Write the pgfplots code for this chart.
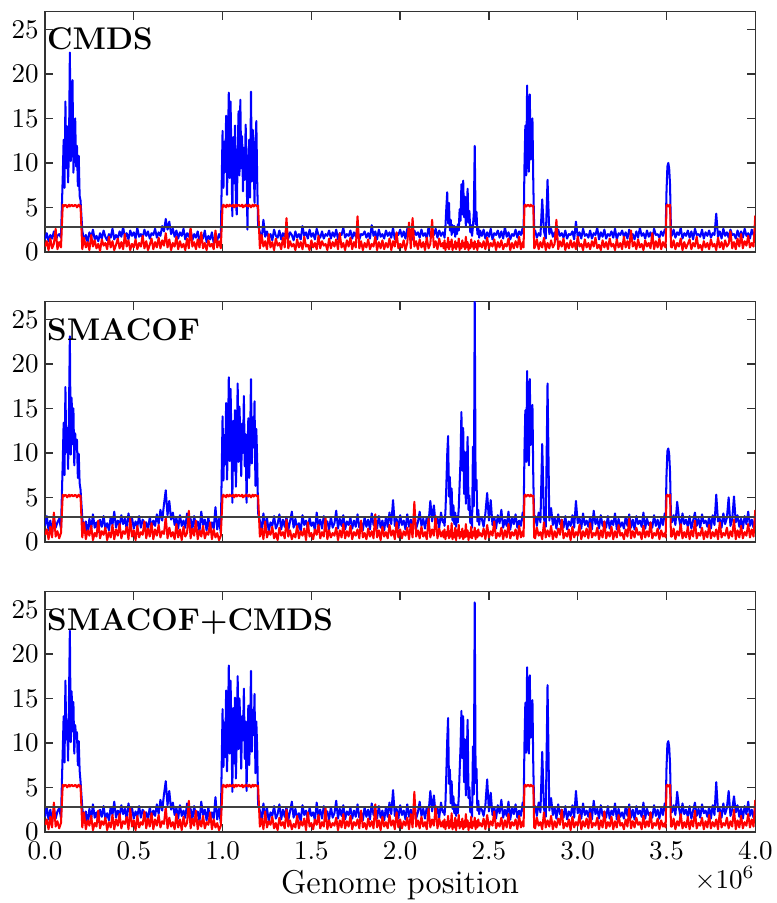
\documentclass[border=0pt]{standalone}
\usepackage{pgfplots}
\usepackage{pgfplotstable}
\pgfplotsset{compat=1.18}
\pgfplotstableread{
x b1 r1 b2 r2 b3
0.00 1.4 0.6 1.8 0.8 1.7
0.01 2.1 1.2 2.9 1.4 2.8
0.02 1.2 0.2 1.3 0.3 1.4
0.03 1.9 1.5 2.4 1.7 2.5
0.04 1.5 0.4 1.1 0.5 1.2
0.05 2.3 0.9 2.7 3.3 2.6
0.06 1.3 2.6 1.6 0.6 1.5
0.07 1.8 0.3 2.2 1.2 2.3
0.08 2.0 1.1 2.6 0.4 2.7
0.09 1.6 0.5 1.5 1.0 1.6
0.100 8.5 5.3 9.0 5.3 9.2
0.105 12.6 5.1 13.4 5.1 13.0
0.110 7.2 5.2 7.5 5.2 7.8
0.115 16.9 5.3 17.4 5.3 17.0
0.120 9.4 5.2 10.1 5.2 10.4
0.125 14.1 5.0 12.8 5.0 12.5
0.130 7.8 5.2 8.2 5.2 8.0
0.135 11.5 5.3 14.6 5.3 14.9
0.140 22.4 5.1 23.1 5.1 22.6
0.145 10.2 5.2 9.8 5.2 10.1
0.150 13.0 5.3 16.2 5.3 15.8
0.155 19.3 5.2 11.0 5.2 11.3
0.160 8.9 5.1 15.0 5.1 14.6
0.165 12.1 5.2 8.6 5.2 8.8
0.170 15.0 5.3 12.2 5.3 12.0
0.175 9.6 5.2 10.4 5.2 10.7
0.180 11.9 5.0 11.5 5.0 11.2
0.185 7.4 5.2 7.2 5.2 7.5
0.190 10.8 5.3 9.9 5.3 10.2
0.195 6.3 5.1 6.6 5.1 6.9
0.200 5.8 5.2 5.9 5.2 5.7
0.21 2.4 0.3 2.7 0.5 2.7
0.22 1.3 1.6 1.2 2.2 1.2
0.23 1.9 0.5 2.3 0.3 2.3
0.24 1.1 1.1 0.9 1.3 0.9
0.25 2.2 0.2 2.6 0.7 2.6
0.26 1.6 1.9 1.4 1.8 1.4
0.27 2.5 0.6 3.1 0.2 3.1
0.28 1.4 1.3 1.6 1.0 1.6
0.29 1.8 0.4 2.2 0.6 2.2
0.30 1.2 0.9 1.1 2.4 1.1
0.31 2.1 0.1 2.5 0.4 2.5
0.32 1.5 1.4 1.7 1.2 1.7
0.33 2.4 0.7 2.9 0.8 2.9
0.34 1.7 1.0 1.5 1.6 1.5
0.35 1.3 0.3 2.1 0.2 2.1
0.36 2.0 1.7 1.3 1.1 1.3
0.37 1.6 0.5 2.8 0.5 2.8
0.38 2.6 1.2 1.9 1.9 1.9
0.39 1.4 0.2 3.4 0.3 3.4
0.40 1.9 0.8 1.6 1.4 1.6
0.41 1.5 1.5 2.4 0.7 2.4
0.42 2.3 0.4 1.8 2.0 1.8
0.43 1.7 1.1 3.0 0.4 3.0
0.44 2.8 0.3 2.0 1.2 2.0
0.45 1.6 2.0 2.6 0.9 2.6
0.46 2.1 0.6 1.4 1.7 1.4
0.47 1.4 1.3 3.2 0.3 3.2
0.48 2.4 0.2 2.1 2.6 2.1
0.49 1.8 0.9 2.7 0.6 2.7
0.50 2.2 0.5 1.5 1.3 1.5
0.51 1.5 1.4 2.3 0.2 2.3
0.52 2.7 0.3 1.7 1.8 1.7
0.53 1.7 1.0 2.9 0.5 2.9
0.54 2.0 0.6 1.6 1.1 1.6
0.55 1.6 1.8 2.5 0.8 2.5
0.56 2.5 0.4 1.9 2.3 1.9
0.57 1.8 1.2 2.2 0.4 2.2
0.58 2.3 0.2 1.3 1.5 1.3
0.59 1.5 0.8 2.8 0.6 2.8
0.60 2.1 1.5 1.6 2.1 1.6
0.61 1.9 0.3 2.4 0.3 2.4
0.62 2.6 1.1 1.8 1.4 1.8
0.63 1.6 0.5 3.1 0.7 3.1
0.64 2.2 1.6 2.0 1.9 2.0
0.65 1.8 0.4 3.6 0.5 3.6
0.66 2.9 1.3 2.4 1.2 2.4
0.67 2.3 0.7 4.2 0.9 4.2
0.68 3.7 2.1 5.8 2.8 5.7
0.69 2.5 0.5 3.0 0.4 3.0
0.70 3.4 1.4 4.6 1.6 4.6
0.71 2.0 0.2 2.5 0.6 2.5
0.72 2.6 1.0 3.3 1.1 3.3
0.73 1.7 0.6 1.9 0.3 1.9
0.74 2.4 1.7 2.7 2.0 2.7
0.75 1.5 0.3 1.5 0.5 1.5
0.76 2.2 1.2 3.0 1.4 3.0
0.77 1.8 0.5 1.8 0.2 1.8
0.78 2.6 0.9 2.4 1.7 2.4
0.79 1.4 0.2 1.6 0.6 1.6
0.80 2.1 1.5 3.2 1.0 3.2
0.81 1.7 0.4 2.0 3.5 2.0
0.82 2.5 2.7 2.6 0.4 2.6
0.83 1.3 0.6 1.4 1.5 1.4
0.84 2.0 1.1 2.9 0.7 2.9
0.85 1.6 0.3 1.7 2.4 1.7
0.86 2.3 1.4 2.3 0.3 2.3
0.87 1.2 0.5 1.2 1.3 1.2
0.88 1.9 2.2 3.4 0.6 3.4
0.89 1.5 0.4 1.9 1.8 1.9
0.90 2.4 1.0 2.5 0.4 2.5
0.91 1.1 0.2 1.3 1.1 1.3
0.92 1.8 1.3 2.8 0.8 2.8
0.93 1.4 0.6 1.1 2.2 1.1
0.94 2.2 0.9 2.2 0.3 2.2
0.95 1.0 0.3 1.5 1.4 1.5
0.96 1.7 2.4 3.9 0.5 3.9
0.97 1.3 0.5 1.4 1.0 1.4
0.98 2.0 1.2 2.6 0.2 2.6
0.99 1.5 0.4 1.0 0.7 1.0
1.000 13.6 5.2 14.1 5.2 13.8
1.005 7.2 5.3 6.9 5.3 7.3
1.010 12.4 5.1 12.0 5.1 12.3
1.015 9.0 5.2 8.7 5.2 8.4
1.020 15.3 5.0 15.6 5.0 15.9
1.025 6.4 5.3 7.0 5.3 6.8
1.030 11.8 5.2 10.9 5.2 11.2
1.035 17.9 5.1 18.5 5.1 18.7
1.040 8.3 5.3 9.1 5.3 8.8
1.045 16.9 5.2 17.2 5.2 17.0
1.050 10.5 5.1 11.4 5.1 11.1
1.055 4.0 5.2 4.4 5.2 4.5
1.060 12.9 5.3 13.6 5.3 13.9
1.065 7.7 5.0 8.0 5.0 7.7
1.070 14.2 5.2 14.8 5.2 15.1
1.075 5.6 5.3 6.2 5.3 6.0
1.080 4.2 5.1 10.3 5.1 10.6
1.085 11.1 5.2 17.8 5.2 17.5
1.090 15.8 5.3 9.0 5.3 9.3
1.095 8.6 5.2 15.2 5.2 15.0
1.100 17.1 5.1 11.9 5.1 12.2
1.105 9.4 5.2 7.4 5.2 7.1
1.110 13.0 5.3 13.3 5.3 13.0
1.115 6.8 5.0 10.0 5.0 10.3
1.120 11.7 5.2 16.4 5.2 16.1
1.125 8.1 5.1 8.5 5.1 8.2
1.130 14.3 5.3 12.1 5.3 12.4
1.135 10.2 5.2 4.4 5.2 4.6
1.140 2.5 5.2 9.7 5.2 9.4
1.145 9.3 5.1 13.9 5.1 14.2
1.150 12.6 5.3 7.2 5.3 7.5
1.155 6.1 5.2 11.5 5.2 11.2
1.160 18.0 5.0 18.3 5.0 18.1
1.165 7.9 5.2 8.8 5.2 9.0
1.170 13.7 5.3 14.0 5.3 13.7
1.175 10.4 5.1 10.6 5.1 10.9
1.180 5.5 5.2 15.8 5.2 15.5
1.185 12.2 5.3 6.3 5.3 6.6
1.190 14.7 5.2 12.7 5.2 12.4
1.195 8.0 5.1 9.1 5.1 9.4
1.200 3.0 5.2 3.2 5.2 3.1
1.21 2.2 0.4 2.4 0.6 2.4
1.22 1.4 1.9 1.3 1.5 1.3
1.23 3.6 0.6 3.2 0.3 3.2
1.24 1.7 1.2 1.6 2.3 1.6
1.25 2.3 0.3 2.7 0.5 2.7
1.26 1.5 2.0 1.2 1.2 1.2
1.27 2.0 0.5 2.2 0.8 2.2
1.28 1.3 1.1 1.8 1.7 1.8
1.29 2.5 0.2 2.9 0.4 2.9
1.30 1.8 1.5 1.5 1.0 1.5
1.31 1.6 0.7 2.0 0.2 2.0
1.32 2.4 1.0 3.1 1.6 3.1
1.33 1.4 0.3 1.4 0.7 1.4
1.34 2.1 1.6 2.5 1.1 2.5
1.35 1.7 0.5 1.7 0.4 1.7
1.36 2.6 3.8 2.8 2.5 2.8
1.37 1.5 0.4 1.3 0.6 1.3
1.38 2.2 1.2 2.3 1.3 2.3
1.39 1.9 0.6 3.4 0.3 3.4
1.40 1.3 0.9 1.6 0.9 1.6
1.41 2.3 0.2 2.6 0.5 2.6
1.42 1.6 1.4 1.5 1.8 1.5
1.43 2.0 0.5 2.1 0.4 2.1
1.44 1.4 1.1 1.2 1.2 1.2
1.45 2.9 0.3 3.0 0.7 3.0
1.46 1.8 1.7 1.9 1.5 1.9
1.47 2.2 0.6 2.4 0.2 2.4
1.48 1.5 0.8 1.4 2.2 1.4
1.49 2.5 0.2 2.7 0.6 2.7
1.50 1.7 1.3 1.8 1.0 1.8
1.51 2.1 0.5 2.2 0.3 2.2
1.52 1.4 1.0 1.3 1.4 1.3
1.53 2.6 0.3 3.3 0.8 3.3
1.54 1.9 1.8 1.7 1.9 1.7
1.55 1.6 0.4 2.5 0.4 2.5
1.56 2.3 1.2 1.5 1.1 1.5
1.57 1.5 0.7 2.9 0.6 2.9
1.58 2.0 0.9 1.9 2.7 1.9
1.59 1.8 0.2 2.3 0.3 2.3
1.60 2.4 1.5 1.4 1.3 1.4
1.61 1.5 0.4 2.8 0.5 2.8
1.62 2.2 1.1 1.6 1.0 1.6
1.63 1.7 0.6 2.1 0.7 2.1
1.64 2.5 1.4 3.5 1.6 3.5
1.65 1.4 0.3 1.5 0.2 1.5
1.66 2.1 2.1 2.6 1.3 2.6
1.67 1.9 0.5 1.8 0.5 1.8
1.68 2.7 1.0 3.0 2.0 3.0
1.69 1.6 0.2 1.4 0.4 1.4
1.70 2.0 1.3 2.3 1.2 2.3
1.71 1.8 0.6 1.9 0.6 1.9
1.72 2.4 1.6 2.7 1.8 2.7
1.73 1.5 0.3 1.5 0.3 1.5
1.74 2.2 1.1 2.4 1.1 2.4
1.75 1.7 0.5 1.7 0.7 1.7
1.76 2.6 4.0 3.1 1.4 3.1
1.77 1.4 0.4 1.6 0.4 1.6
1.78 2.0 1.2 2.2 2.4 2.2
1.79 1.9 0.2 1.3 0.5 1.3
1.80 2.3 1.0 2.8 1.0 2.8
1.81 1.6 0.5 1.7 0.3 1.7
1.82 2.1 1.4 2.5 1.5 2.5
1.83 1.5 0.3 1.4 0.6 1.4
1.84 3.0 0.9 3.2 1.2 3.2
1.85 1.8 0.6 1.9 0.4 1.9
1.86 2.3 1.7 2.3 3.1 2.3
1.87 1.4 0.2 1.5 0.5 1.5
1.88 2.5 1.1 2.9 1.3 2.9
1.89 1.7 0.4 1.6 0.2 1.6
1.90 2.0 1.3 2.4 1.7 2.4
1.91 1.5 0.3 1.3 0.6 1.3
1.92 2.4 1.0 2.8 1.1 2.8
1.93 1.8 0.5 1.7 0.4 1.7
1.94 2.2 1.5 3.3 1.9 3.3
1.95 1.6 0.2 2.0 0.7 2.0
1.96 2.7 1.2 4.7 1.3 4.7
1.97 1.4 0.6 1.8 0.3 1.8
1.98 2.1 2.2 2.6 2.2 2.6
1.99 1.9 0.4 1.5 0.5 1.5
2.00 2.5 0.9 3.0 1.4 3.0
2.01 1.7 0.5 1.9 0.4 1.9
2.02 2.3 1.3 2.4 1.2 2.4
2.03 1.5 0.2 1.4 0.7 1.4
2.04 2.6 1.0 3.1 1.6 3.1
2.05 1.8 3.3 1.7 0.3 1.7
2.06 2.0 0.4 2.5 2.0 2.5
2.07 1.4 3.8 1.6 0.5 1.6
2.08 2.4 0.6 2.9 4.5 2.9
2.09 1.9 1.2 1.5 0.6 1.5
2.10 2.2 0.3 2.2 1.3 2.2
2.11 1.6 1.4 3.4 0.4 3.4
2.12 2.5 0.5 1.8 1.7 1.8
2.13 1.8 1.1 2.6 0.6 2.6
2.14 2.1 0.2 1.5 1.1 1.5
2.15 1.5 1.6 2.8 0.3 2.8
2.16 2.8 0.4 2.1 2.6 2.1
2.17 1.7 0.9 4.6 0.5 4.6
2.18 2.3 3.6 2.3 1.4 2.3
2.19 1.9 0.5 4.1 0.7 4.1
2.20 2.6 1.2 1.9 2.9 1.9
2.21 1.6 0.3 2.7 0.4 2.7
2.22 2.4 1.5 1.6 1.5 1.6
2.23 1.8 0.6 3.3 0.6 3.3
2.24 2.2 1.0 2.2 1.2 2.2
2.245 2.1 0.4 2.5 0.5 2.4
2.250 1.6 1.3 1.8 1.4 1.9
2.255 2.8 0.2 3.4 0.3 3.2
2.260 4.9 0.9 6.2 1.1 6.5
2.265 6.7 0.5 9.8 0.7 10.2
2.270 3.2 1.6 11.9 1.8 12.8
2.275 5.5 0.3 5.1 0.4 5.4
2.280 2.4 1.1 7.3 1.2 7.0
2.285 3.6 0.6 3.0 0.6 3.2
2.290 1.9 1.4 6.0 2.1 5.7
2.295 3.0 0.2 2.4 0.3 2.6
2.300 2.2 0.8 4.1 1.0 4.0
2.305 2.9 0.5 2.0 0.5 2.1
2.310 1.7 1.2 3.3 1.6 3.1
2.315 2.6 0.3 1.7 0.2 1.8
2.320 2.0 1.0 2.9 1.3 3.0
2.325 3.1 0.6 2.2 0.7 2.1
2.330 2.4 1.5 3.8 1.9 3.9
2.335 4.8 0.2 6.5 0.4 6.8
2.340 3.5 0.9 9.2 1.1 9.5
2.345 7.6 0.4 14.6 0.6 13.6
2.350 4.2 1.3 8.0 1.5 8.3
2.355 8.0 0.6 12.8 0.3 13.0
2.360 3.9 1.0 5.4 1.2 5.6
2.365 6.2 0.3 10.1 0.5 10.4
2.370 2.8 1.7 4.3 2.0 4.1
2.375 5.0 0.5 7.9 0.6 8.2
2.380 7.1 1.1 11.8 1.3 12.6
2.385 3.3 0.2 3.6 0.2 3.8
2.390 4.6 0.8 5.2 1.0 5.0
2.395 2.2 0.4 2.1 0.5 2.2
2.400 3.0 1.4 3.4 1.7 3.3
2.405 1.8 0.6 1.6 0.4 1.7
2.410 2.9 1.0 10.7 1.1 9.6
2.415 4.4 0.3 4.0 0.7 4.2
2.420 11.9 1.2 27.0 1.6 25.8
2.425 3.1 0.5 5.8 0.3 5.5
2.430 4.5 0.9 7.0 1.2 7.1
2.435 2.0 0.2 2.3 0.5 2.4
2.440 2.7 1.3 3.6 1.4 3.5
2.445 1.6 0.6 1.9 0.7 2.0
2.450 2.4 1.0 2.8 1.0 2.7
2.46 1.8 0.5 2.6 0.6 2.5
2.47 2.5 1.2 1.7 1.5 1.8
2.48 1.5 0.3 3.2 0.3 3.0
2.49 2.2 1.6 5.5 1.9 5.9
2.50 1.7 0.4 2.4 0.5 2.3
2.51 2.6 1.0 4.7 1.2 4.4
2.52 1.4 0.6 1.9 0.7 1.9
2.53 2.1 1.4 2.8 2.3 2.8
2.54 1.9 0.2 1.5 0.4 1.5
2.55 2.4 1.1 3.0 1.0 3.0
2.56 1.6 0.5 2.1 0.6 2.1
2.57 2.3 1.3 3.6 1.6 3.6
2.58 1.5 0.3 1.6 0.3 1.6
2.59 2.8 0.9 2.5 1.3 2.5
2.60 1.7 0.6 1.8 0.5 1.8
2.61 2.2 1.5 3.4 2.0 3.4
2.62 1.4 0.2 1.4 0.4 1.4
2.63 2.0 1.0 2.7 1.1 2.7
2.64 1.8 0.4 2.0 0.7 2.0
2.65 2.5 1.2 3.1 1.4 3.1
2.66 1.6 0.5 1.6 0.3 1.6
2.67 2.3 1.7 2.4 1.8 2.4
2.68 1.9 0.3 1.8 0.5 1.8
2.69 2.7 1.1 3.3 1.2 3.3
2.695 2.0 0.5 2.4 0.6 2.3
2.700 9.5 5.2 10.1 5.2 9.8
2.705 14.2 5.3 14.8 5.3 14.5
2.710 8.6 5.1 9.0 5.1 8.9
2.715 18.7 5.2 19.2 5.2 18.5
2.720 11.3 5.3 11.0 5.3 11.2
2.725 9.0 5.2 8.6 5.2 8.8
2.730 17.7 5.1 18.3 5.1 17.6
2.735 10.4 5.3 10.9 5.3 10.6
2.740 12.8 5.2 12.5 5.2 12.3
2.745 15.0 5.1 15.4 5.1 14.8
2.750 7.5 5.2 6.9 5.2 7.1
2.755 2.3 0.4 2.5 0.5 2.6
2.76 2.4 0.6 2.9 0.4 2.9
2.77 1.6 1.4 1.8 1.6 1.8
2.78 2.1 0.3 3.3 0.7 3.3
2.79 1.8 1.1 2.2 1.1 2.2
2.80 5.9 0.5 11.0 0.3 9.0
2.81 2.3 1.6 2.6 2.2 2.6
2.82 1.5 0.2 1.7 0.5 1.7
2.83 8.1 1.0 17.8 1.3 16.5
2.84 2.0 0.4 2.4 0.6 2.4
2.85 2.6 1.3 3.8 1.8 3.8
2.86 1.7 0.5 1.9 0.3 1.9
2.87 2.2 0.9 2.7 1.2 2.7
2.88 1.4 3.6 1.5 0.5 1.5
2.89 2.5 0.3 3.1 1.5 3.1
2.90 1.8 1.2 2.0 0.8 2.0
2.91 2.1 0.6 2.5 2.5 2.5
2.92 1.6 1.5 1.6 0.4 1.6
2.93 2.4 0.2 2.9 1.0 2.9
2.94 1.5 1.0 1.4 0.6 1.4
2.95 2.0 0.4 2.3 1.4 2.3
2.96 1.9 1.3 1.8 0.2 1.8
2.97 2.3 0.5 3.0 1.7 3.0
2.98 1.4 1.1 1.6 0.5 1.6
2.99 3.4 0.3 4.6 1.1 4.6
3.00 1.7 1.7 2.1 0.7 2.1
3.01 2.2 0.6 2.7 1.9 2.7
3.02 1.5 0.9 1.5 0.3 1.5
3.03 2.6 0.2 3.2 1.2 3.2
3.04 1.8 1.4 1.9 0.6 1.9
3.05 2.0 0.5 2.4 1.5 2.4
3.06 1.6 1.0 1.7 0.4 1.7
3.07 2.4 0.3 2.8 2.1 2.8
3.08 1.5 1.2 1.4 0.5 1.4
3.09 2.1 0.6 3.5 1.0 3.5
3.10 1.9 1.6 2.0 0.7 2.0
3.11 2.7 0.4 2.6 1.6 2.6
3.12 1.4 0.8 1.5 0.3 1.5
3.13 2.2 0.2 3.0 1.3 3.0
3.14 1.7 1.3 1.8 0.5 1.8
3.15 2.5 0.5 2.3 2.3 2.3
3.16 1.5 1.1 1.6 0.4 1.6
3.17 2.0 0.3 2.9 1.1 2.9
3.18 1.8 1.5 1.5 0.6 1.5
3.19 2.3 0.6 2.4 1.7 2.4
3.20 1.6 0.9 1.9 0.3 1.9
3.21 2.6 0.2 3.2 1.2 3.2
3.22 1.4 1.4 1.4 0.5 1.4
3.23 2.1 0.5 2.6 1.9 2.6
3.24 1.9 1.0 1.7 0.7 1.7
3.25 2.4 0.3 2.2 1.0 2.2
3.26 1.7 1.7 1.5 0.3 1.5
3.27 2.2 0.5 2.8 1.4 2.8
3.28 1.5 1.2 1.8 0.6 1.8
3.29 2.5 0.4 3.1 2.6 3.1
3.30 1.8 2.4 1.6 0.4 1.6
3.31 2.0 0.6 2.5 1.2 2.5
3.32 1.4 1.1 1.4 0.5 1.4
3.33 2.3 0.3 2.9 1.6 2.9
3.34 1.6 1.4 2.0 0.8 2.0
3.35 2.7 0.5 2.4 1.1 2.4
3.36 1.8 0.9 1.7 0.3 1.7
3.37 2.1 0.2 3.3 1.8 3.3
3.38 1.5 1.3 1.5 0.5 1.5
3.39 2.4 0.6 2.6 1.2 2.6
3.40 1.7 1.0 1.9 0.6 1.9
3.41 2.2 0.4 2.2 2.2 2.2
3.42 1.4 2.1 1.6 0.4 1.6
3.43 2.6 0.3 3.0 1.0 3.0
3.44 1.9 1.2 1.8 0.7 1.8
3.45 2.0 0.5 2.5 1.5 2.5
3.46 1.6 1.5 1.5 0.3 1.5
3.47 2.3 0.3 2.7 1.3 2.7
3.48 1.8 1.1 1.9 0.6 1.9
3.49 2.5 0.6 3.2 1.0 3.2
3.495 2.2 0.5 2.5 0.5 2.4
3.500 6.8 5.2 7.5 5.2 7.2
3.505 9.6 5.3 10.2 5.3 9.9
3.510 10.0 5.1 10.5 5.1 10.2
3.515 9.4 5.2 9.9 5.2 9.6
3.520 7.5 5.3 7.8 5.3 7.6
3.525 2.4 0.6 2.9 0.6 2.8
3.53 1.8 0.5 2.2 0.6 2.2
3.54 2.5 1.3 3.0 1.5 3.0
3.55 1.6 0.3 1.9 0.3 1.9
3.56 2.2 1.0 4.5 1.2 4.5
3.57 1.9 0.6 2.7 0.7 2.7
3.58 2.7 1.5 1.6 2.0 1.6
3.59 1.5 0.2 3.2 0.4 3.2
3.60 2.1 1.1 2.0 1.1 2.0
3.61 1.8 0.4 2.5 0.5 2.5
3.62 2.4 0.9 1.7 1.7 1.7
3.63 1.6 1.4 2.9 0.3 2.9
3.64 2.3 0.3 1.5 1.3 1.5
3.65 1.4 1.0 2.4 0.6 2.4
3.66 2.6 0.6 3.3 2.4 3.3
3.67 1.9 1.7 1.8 0.4 1.8
3.68 2.0 0.4 2.6 1.0 2.6
3.69 1.7 0.8 1.6 0.7 1.6
3.70 2.5 0.2 3.1 1.6 3.1
3.71 1.5 1.2 2.1 0.3 2.1
3.72 2.2 0.5 2.4 1.2 2.4
3.73 1.8 1.0 1.7 0.5 1.7
3.74 2.4 0.3 2.8 1.9 2.8
3.75 1.6 1.4 1.5 0.4 1.5
3.76 2.1 0.6 3.0 1.1 3.0
3.77 1.9 0.9 1.9 0.6 1.9
3.78 4.3 0.2 5.3 1.4 5.6
3.79 1.7 1.6 2.3 0.3 2.3
3.80 2.3 0.5 2.6 2.2 2.6
3.81 1.5 1.1 1.6 0.5 1.6
3.82 2.6 0.3 3.2 1.0 3.2
3.83 1.8 1.3 2.0 0.7 2.0
3.84 2.2 0.6 2.7 1.6 2.7
3.85 1.6 0.9 5.0 0.4 4.6
3.86 2.5 2.3 1.8 1.2 1.8
3.87 1.9 0.4 2.5 0.6 2.5
3.88 2.0 1.1 5.1 2.5 4.0
3.89 1.5 0.3 2.2 0.3 2.2
3.90 2.4 1.5 3.0 1.3 3.0
3.91 1.7 0.6 1.7 0.5 1.7
3.92 2.3 2.0 2.6 1.8 2.6
3.93 1.6 0.4 1.5 0.4 1.5
3.94 2.6 1.2 2.9 1.1 2.9
3.95 1.8 0.7 2.0 0.7 2.0
3.96 2.1 1.8 3.4 2.0 3.4
3.97 1.5 0.5 1.8 0.5 1.8
3.98 2.5 1.0 2.5 1.4 2.5
3.99 1.9 0.6 1.6 0.6 1.6
4.00 2.3 4.1 2.8 3.6 2.8
}\gdata

\pgfplotsset{
  panel/.style={
    scale only axis, width=262.8pt, height=88.9pt,
    xmin=0, xmax=4, ymin=0, ymax=27,
    xtick={0,0.5,1,1.5,2,2.5,3,3.5,4},
    ytick={0,5,10,15,20,25},
    axis line style={black!80, line width=0.5pt},
    major tick length=3pt,
    tick style={black!80, line width=0.5pt},
    tick label style={font=\fontsize{10}{12}\selectfont},
    yticklabel style={xshift=1.2pt},
  },
  bl/.style={draw=blue, line width=0.75pt, line join=round},
  rd/.style={draw=red, line width=0.75pt, line join=round},
  th/.style={draw=black!75, line width=0.7pt},
}
\tikzset{
  ttl/.style={anchor=base west, inner sep=0pt, font=\fontsize{11.6}{14}\selectfont\bfseries, xshift=0.6pt, yshift=-14.2pt},
}

\begin{document}
\begin{tikzpicture}
\useasboundingbox (-16.65pt,-26.3pt) rectangle (270.8pt,307.8pt);
\begin{axis}[panel, name=p1, at={(0pt,214.6pt)}, anchor=south west, xticklabels={}]
\addplot[bl] table[x=x,y=b1]{\gdata};
\addplot[rd] table[x=x,y=r1]{\gdata};
\addplot[th] coordinates {(0,2.75) (4,2.75)};
\node[ttl] at (rel axis cs:0,1) {CMDS};
\end{axis}
\begin{axis}[panel, name=p2, at={(0pt,107.3pt)}, anchor=south west, xticklabels={}]
\addplot[bl] table[x=x,y=b2]{\gdata};
\addplot[rd] table[x=x,y=r2]{\gdata};
\addplot[th] coordinates {(0,2.75) (4,2.75)};
\node[ttl] at (rel axis cs:0,1) {SMACOF};
\end{axis}
\begin{axis}[panel, name=p3, at={(0pt,0pt)}, anchor=south west,
  xticklabels={0.0,0.5,1.0,1.5,2.0,2.5,3.0,3.5,4.0},
  xlabel={Genome position},
  xlabel style={at={(rel axis cs:0.5,0)}, anchor=base, yshift=-22.6pt, inner sep=0pt, font=\fontsize{12.2}{14}\selectfont}]
\addplot[bl] table[x=x,y=b3]{\gdata};
\addplot[rd] table[x=x,y=r2]{\gdata};
\addplot[th] coordinates {(0,2.75) (4,2.75)};
\node[ttl] at (rel axis cs:0,1) {SMACOF+CMDS};
\end{axis}
\node[anchor=base east, inner sep=0pt, font=\fontsize{10}{12}\selectfont] at ([yshift=-20.8pt]p3.south east) {$\times10^{6}$};
\end{tikzpicture}
\end{document}
